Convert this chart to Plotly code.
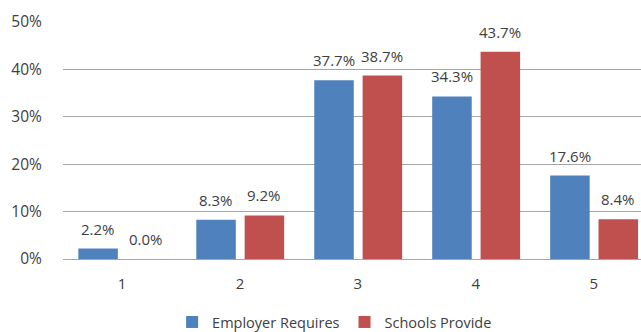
import plotly.graph_objects as go

categories = [1, 2, 3, 4, 5]
employer_requires = [2.2, 8.3, 37.7, 34.3, 17.6]
schools_provide = [0.0, 9.2, 38.7, 43.7, 8.4]
y_ticks = [0, 10, 20, 30, 40, 50]
y_tick_labels = ["0%", "10%", "20%", "30%", "40%", "50%"]

BLUE = "#4F81BD"
RED = "#C0504D"
FONT = "Open Sans"
TEXT_COLOR = "#404040"
GRID = "#a6a6a6"

BAR_W = 0.335
OFFSETS = {"Employer Requires": -0.37, "Schools Provide": 0.04}

series = [
    ("Employer Requires", employer_requires, BLUE),
    ("Schools Provide", schools_provide, RED),
]

fig = go.Figure()
annotations = []
for name, values, color in series:
    off = OFFSETS[name]
    fig.add_trace(go.Bar(
        name=name,
        x=categories, y=values,
        marker=dict(color=color, line=dict(width=0)),
        width=BAR_W, offset=off,
        hoverinfo="x+y",
    ))
    # value labels sitting above each bar
    for c, v in zip(categories, values):
        annotations.append(dict(
            x=c + off + BAR_W / 2, y=v, xref="x", yref="y",
            text=f"{v:.1f}%", showarrow=False,
            xanchor="center", yanchor="bottom", yshift=8,
            font=dict(family=FONT, size=15, color=TEXT_COLOR),
        ))

fig.update_layout(
    width=641, height=332,
    margin=dict(l=63, r=0, t=22, b=73),
    paper_bgcolor="white", plot_bgcolor="white",
    barmode="group",
    font=dict(family=FONT, size=15, color=TEXT_COLOR),
    showlegend=True,
    legend=dict(
        orientation="h", xref="container", yref="container",
        x=0.522, y=0.03, xanchor="center", yanchor="middle",
        font=dict(family=FONT, size=14.5, color=TEXT_COLOR),
        itemwidth=30, traceorder="normal",
    ),
    annotations=annotations,
    xaxis=dict(
        range=[0.5, 5.4],
        tickvals=categories, ticktext=[str(c) for c in categories],
        ticks="outside", ticklen=11, tickcolor="rgba(0,0,0,0)",
        showgrid=False, zeroline=False, showline=False,
        tickfont=dict(family=FONT, size=15, color=TEXT_COLOR),
    ),
    yaxis=dict(
        range=[0, 50],
        tickvals=y_ticks, ticktext=y_tick_labels,
        ticks="outside", ticklen=17, tickcolor="rgba(0,0,0,0)",
        showgrid=True, gridcolor=GRID, gridwidth=1,
        zeroline=True, zerolinecolor=GRID, zerolinewidth=1,
        showline=False,
        tickfont=dict(family=FONT, size=15.5, color=TEXT_COLOR),
    ),
)

fig.write_html("out.html")
